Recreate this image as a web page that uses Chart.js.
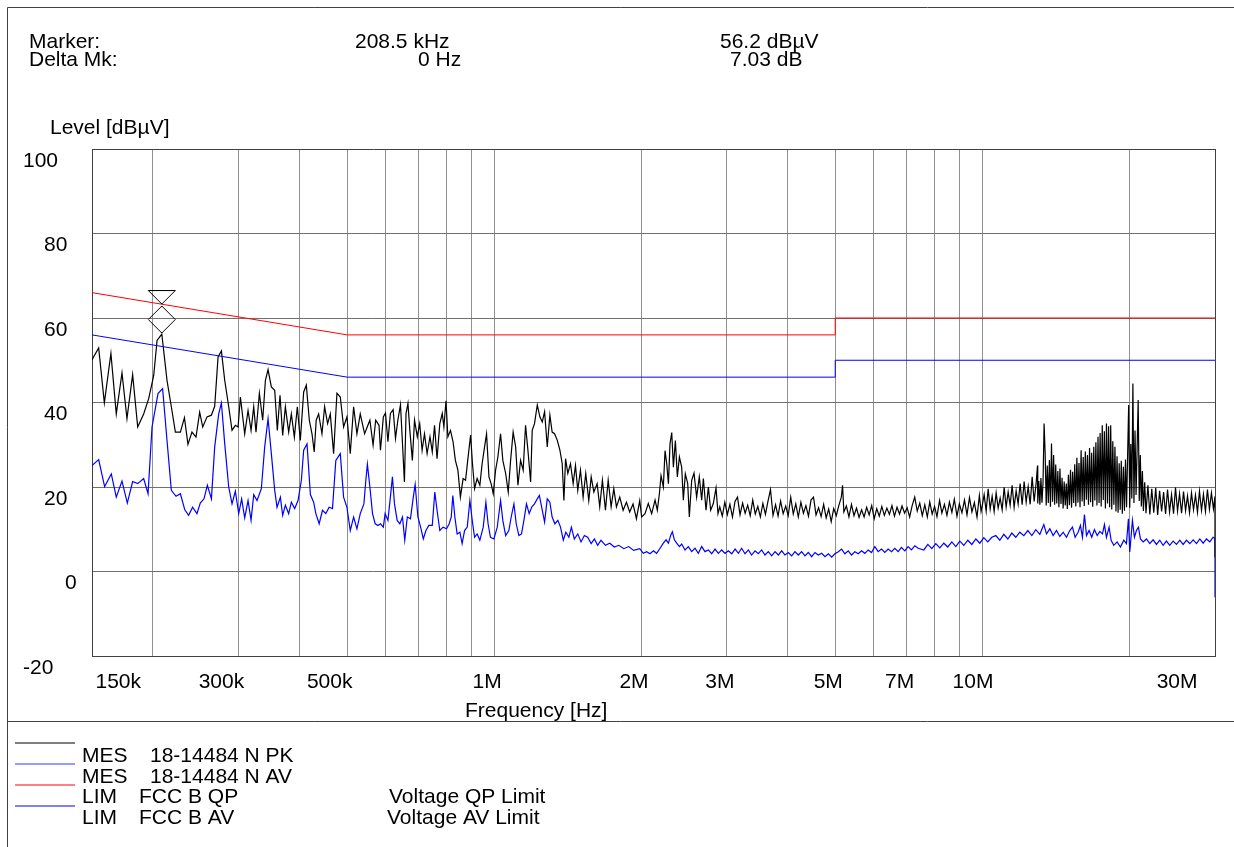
<!DOCTYPE html>
<html>
<head>
<meta charset="utf-8">
<script src="https://cdn.jsdelivr.net/npm/chart.js@4.4.1/dist/chart.umd.min.js"></script>
<style>
  html, body { margin: 0; padding: 0; background: #fff; }
  #wrap { width: 1234px; height: 847px; position: relative; }
</style>
</head>
<body>
<div id="wrap"><canvas id="emi"></canvas></div>
<script>
// frequencies in kHz, levels in dBuV
var gridFreqs = [150, 200, 300, 400, 500, 600, 700, 800, 900, 1000,
  2000, 3000, 4000, 5000, 6000, 7000, 8000, 9000, 10000, 20000, 30000];
var labelFreqs = [150, 300, 500, 1000, 2000, 3000, 5000, 7000, 10000, 30000];
var labelTexts = ["150k", "300k", "500k", "1M", "2M", "3M", "5M", "7M", "10M", "30M"];

var qpLimitFreq = [150, 500, 5000, 5000, 30000];
var qpLimitLevel = [66, 56, 56, 60, 60];
var avLimitFreq = [150, 500, 5000, 5000, 30000];
var avLimitLevel = [56, 46, 46, 50, 50];

var markerFreq = 208.5;
var markerLevel = 56.2;

// MES 18-14484 N PK  [kHz, dBuV]
var pkPoints = [
  [150, 50.1], [154.8, 52.9], [159, 39.9], [164, 51.6], [168.2, 37.3], [172.8, 47], [176.9, 36.2],
  [181.7, 46.6], [186.1, 34.2], [191.4, 37.3], [196, 40.9], [200.7, 46.4], [203.9, 54.7],
  [208.5, 56.2], [213.7, 45.2], [218.1, 39], [222.3, 33], [227.6, 33], [232, 36.4], [235.9, 30.1],
  [240.4, 33], [245, 31.8], [249.3, 37.7], [252.9, 34.2], [258.1, 36.6], [263.5, 37], [267.6, 39.1],
  [271.9, 50.8], [276.2, 52.2], [280.6, 45.2], [285.9, 39], [290.4, 33.4], [295, 34.6], [298.8, 34.2],
  [302.1, 41.3], [308.3, 32.6], [313.2, 38.1], [317.7, 33.4], [321.7, 39], [325.2, 33], [330.4, 42.2],
  [335.6, 35.8], [339.9, 45.2], [344.2, 47.8], [349.6, 43.7], [355.2, 42.9], [359.6, 33.4],
  [364.2, 41.7], [368.8, 32.2], [373.5, 39], [379.4, 33], [384.2, 37.3], [389.7, 31.8], [395.2, 39],
  [400.8, 31], [407.2, 42.5], [412.3, 44.1], [418.2, 35.8], [423.5, 32.6], [428, 28.3], [432, 35.8],
  [437, 37.3], [443.9, 32.6], [449.5, 39], [455.9, 35], [461.7, 37.3], [469, 27.9], [476.4, 42.2],
  [484, 41.3], [491.6, 34.2], [499.4, 36.6], [507.3, 27.9], [515.4, 39], [523.5, 32.6], [531.8, 37.3],
  [542.8, 32.6], [556.5, 35.8], [565, 29.9], [572, 35.8], [581, 34.6], [585, 28.7], [593, 36.6],
  [599, 37.5], [606, 30.7], [613, 37.4], [621, 38.3], [628, 31.5], [635, 35.8], [643, 39.5],
  [648, 31.9], [655, 21.2], [660, 37.4], [666, 39.8], [672, 33.4], [680, 26.3], [687, 35.8],
  [696, 31.9], [704, 35], [712, 28.7], [720, 32.6], [729, 27.9], [739, 31.9], [747, 28.3],
  [755, 34.6], [764, 26.7], [774, 35], [783, 37.4], [789, 34.2], [797, 40.4], [804, 31.9],
  [814, 33.4], [824, 30.7], [833, 26.3], [843, 24], [853, 17.6], [864, 22], [874, 21.6],
  [883, 26.3], [895, 32.3], [903, 25.5], [912, 19.6], [923, 22], [935, 20.4], [945, 25.5],
  [956, 29.5], [965, 32.6], [976, 22.4], [986, 20.8], [996, 18.4], [1007, 24], [1018, 27.1],
  [1031, 32.6], [1042, 26.3], [1056, 23.2], [1069, 18.8], [1081, 26.3], [1094, 33], [1107, 29.5],
  [1119, 20.4], [1133, 26.3], [1147, 24], [1160, 34.6], [1173, 28.7], [1188, 21.2], [1197, 33.4],
  [1210, 35], [1226, 39.4], [1241, 36.6], [1255, 35.4], [1269, 37.8], [1285, 29.5], [1301, 37],
  [1315, 33], [1330, 32.6], [1347, 31.1], [1364, 28.7], [1379, 25.5], [1390, 16.8], [1401, 26.7],
  [1416, 23.2], [1434, 25.5], [1452, 20.8], [1468, 25.1], [1484, 19.2], [1503, 24], [1522, 17.6],
  [1541, 23.2], [1563, 16.8], [1581, 22.4], [1601, 18.8], [1626, 20.8], [1646, 15.3], [1667, 21.6],
  [1691, 14.5], [1713, 21.6], [1737, 15.3], [1759, 19.6], [1781, 15.3], [1809, 17.6], [1838, 14.5],
  [1867, 16.4], [1896, 14.1], [1926, 16], [1957, 12.5], [1988, 16.8],
  [2006, 12.9], [2038, 13.7], [2070, 16.1], [2103, 13.7], [2137, 16.9], [2160, 14.5], [2181, 18.4],
  [2198, 22.7], [2222, 20], [2240, 28.6], [2258, 25.5], [2276, 20.8], [2293, 30.2], [2312, 32.9],
  [2330, 24.7], [2352, 31], [2374, 22.4], [2397, 27.1], [2423, 24.7], [2442, 16.9], [2465, 23.1],
  [2493, 20.8], [2512, 12.9], [2540, 21.6], [2568, 23.3], [2600, 17.6], [2633, 22.4], [2663, 16.9],
  [2684, 22], [2718, 14.5], [2748, 20], [2778, 14.5], [2813, 16.1], [2849, 19.8], [2876, 13.7],
  [2900, 15.3], [2935, 13.1], [2970, 16.4], [3006, 13.5], [3042, 15.9], [3079, 12.9], [3116, 16.6],
  [3153, 17.6], [3191, 13.4], [3230, 16.2], [3269, 13.8], [3308, 15.7], [3348, 13.2], [3388, 16.9],
  [3429, 13.6], [3470, 15.4], [3512, 12.9], [3554, 16.1], [3597, 13.5], [3640, 16.6], [3684, 19.4],
  [3728, 13.3], [3773, 15.8], [3818, 13.1], [3864, 16.7], [3911, 13.7], [3958, 15.5], [4005, 13.2],
  [4053, 17.6], [4102, 13.6], [4151, 16], [4201, 12.9], [4252, 16.4], [4303, 13.8], [4354, 15.6],
  [4407, 13.1], [4460, 16.9], [4513, 17.6], [4567, 13.4], [4622, 15.1], [4678, 13], [4734, 15.9],
  [4791, 12.7], [4848, 14.8], [4906, 11.8], [4965, 14.9], [5025, 13.2], [5085, 15.6], [5146, 17.6],
  [5176, 20.4], [5208, 14.1], [5270, 15.5], [5334, 12.9], [5398, 15.9], [5463, 13.2], [5528, 15],
  [5595, 12.8], [5662, 14.6], [5730, 12.9], [5799, 15.2], [5868, 13.4], [5939, 15.6], [6010, 12.5],
  [6082, 14.9], [6155, 13.1], [6229, 15.4], [6304, 13.3], [6380, 15], [6456, 13.5], [6534, 15.6],
  [6612, 13.1], [6692, 15.2], [6772, 13.6], [6853, 15.5], [6936, 13.8], [7019, 15.1], [7103, 12.9],
  [7188, 15.6], [7275, 17.6], [7362, 14.3],
  [7450, 16.2], [7540, 13.2], [7630, 15.8], [7720, 12.9], [7810, 16.5], [7900, 13.6], [7990, 15.4],
  [8080, 13], [8180, 16.8], [8270, 13.8], [8370, 15.9], [8470, 13.3], [8570, 16.4], [8670, 14],
  [8770, 17.1], [8880, 13.1], [8980, 16], [9090, 13.9], [9200, 16.9], [9310, 13.4], [9420, 17.5],
  [9530, 14.1], [9640, 16.3], [9760, 12.9], [9870, 18], [9950, 14.2],
  [10000, 15.5], [10095, 18.2], [10191, 14.3], [10288, 19.6], [10386, 14.8], [10483, 17.8],
  [10583, 14.2], [10683, 18.6], [10784, 15], [10887, 17.4], [10990, 14.6], [11094, 19.9],
  [11199, 15.3], [11305, 18.8], [11412, 15.7], [11520, 20.4], [11629, 15.2], [11740, 19.1],
  [11851, 16], [11964, 20.8], [12078, 15.8], [12192, 21.3], [12308, 16.4], [12425, 20.1],
  [12543, 15.9], [12661, 22.4], [12781, 16.6], [12903, 21], [12984, 25.1],
  [13000, 16.1], [13065, 21.4], [13130, 15.8], [13196, 22.1], [13262, 16.3], [13328, 21.2],
  [13395, 35], [13462, 28], [13529, 15.6], [13597, 25.1], [13665, 16.2], [13733, 26.4],
  [13802, 15.3], [13871, 30.3], [13940, 16.5], [14010, 27.6], [14080, 15.8], [14150, 25.3],
  [14221, 16.1], [14292, 23.8], [14363, 15.2], [14435, 24.4], [14507, 16], [14580, 22.2],
  [14653, 14.9], [14726, 21.3], [14800, 15.6], [14874, 20.8], [14948, 14.8], [15023, 22.9],
  [15098, 15.7], [15174, 24.1], [15249, 15.1], [15326, 23.6], [15402, 16.2], [15479, 25.4],
  [15557, 15.4], [15635, 26.9], [15713, 16.3], [15791, 25.7], [15870, 15.2], [15950, 28.7],
  [16029, 16.6], [16110, 27.1], [16190, 15.5], [16271, 28.4], [16352, 17], [16434, 27.6],
  [16516, 15.8], [16599, 29.2], [16682, 16.4], [16765, 28.1], [16849, 15.3], [16933, 29.5],
  [17018, 16.8], [17103, 30.6], [17189, 15.6], [17275, 31.9], [17361, 16.2], [17448, 32.8],
  [17535, 15.4], [17623, 34.6], [17711, 16.9], [17799, 33.2], [17888, 14.9], [17978, 35],
  [18068, 16.1], [18158, 34.4], [18249, 15.2], [18340, 34.6], [18432, 14.7], [18524, 30.8],
  [18617, 15.8], [18710, 29.5], [18803, 14.2], [18897, 27.3], [18992, 13.9], [19087, 25.6],
  [19182, 14.6], [19278, 26.2], [19374, 13.7], [19471, 24.8], [19569, 14.4], [19666, 26.5],
  [19765, 15.2], [19864, 27.4], [19963, 39.4], [20063, 15.1], [20163, 30.2], [20264, 17.3],
  [20365, 44.5], [20467, 16.2], [20569, 33.4], [20672, 18.1], [20775, 29], [20879, 40.6],
  [20984, 16.7], [21089, 27.6], [21194, 15.4], [21300, 23.8], [21400, 14.3], [21530, 21.1],
  [21660, 13.8], [21860, 20.4],
  [22060, 13.5], [22260, 19.6], [22470, 13.9], [22680, 19.8], [22890, 13.4], [23100, 19.1],
  [23320, 14.2], [23540, 18.8], [23760, 13.6], [23980, 19.4], [24210, 14.1], [24440, 18.2],
  [24670, 13.7], [24900, 19.9], [25140, 14.3], [25380, 18.4], [25620, 13.8], [25860, 18.9],
  [26110, 14.4], [26350, 17.9], [26600, 13.9], [26850, 18.6], [27110, 14.6], [27360, 18.1],
  [27620, 14], [27880, 19], [28150, 14.5], [28410, 18.3], [28680, 14.2], [28950, 19.4],
  [29220, 14.7], [29500, 18.6], [29780, 14.8], [30000, 17.8], [30000, 3.4]
];

// MES 18-14484 N AV  [kHz, dBuV]
var avPoints = [
  [150, 25.1], [154.8, 26.5], [159.2, 20.1], [164.3, 23.1], [168.2, 17.6], [172.8, 21.4],
  [177.2, 16.2], [181.7, 21.3], [186.1, 20.8], [191.4, 22], [195.4, 18.4], [199.1, 34.2],
  [204.8, 42.1], [209.3, 43.3], [213.7, 31], [218.1, 19.2], [223, 17.8], [227.6, 18.4],
  [232.4, 14.6], [236.6, 13.3], [241.1, 15.2], [246.1, 13.7], [250, 16.2], [254.4, 17.2],
  [258.5, 20.4], [263.5, 17.2], [267.6, 29.5], [272.7, 37.3], [276.2, 39.9], [280.6, 30.2],
  [285.9, 20], [290.4, 16], [295, 19], [299.7, 13.7], [303.9, 17.2], [308.3, 12.7], [313.2, 16.8],
  [317.7, 12.1], [321.7, 18.2], [326.8, 16.8], [333.5, 19.6], [338.8, 29.5], [344.2, 36.2],
  [349.6, 27.9], [355.2, 19.2], [359.1, 15.2], [364.8, 17.6], [368.8, 13.3], [373.5, 15.7],
  [379.4, 13.7], [384.2, 16.4], [390.3, 14.9], [396.5, 16.8], [402.8, 21.6], [407.2, 28.7],
  [413.7, 30.2], [420.3, 18.2], [426.8, 16.4], [431.3, 13.7], [438.1, 11.3], [445, 14.5],
  [452.1, 13.7], [459.2, 15.2], [466.5, 14.9], [473.9, 26.3], [484, 27.9], [491.6, 17.6],
  [499.4, 15.2], [507.3, 9.7], [515.4, 12.9], [523.5, 10.1], [531.8, 13.7],
  [541, 16], [546, 21.6], [550, 25.4], [556.5, 20], [563.5, 13.7], [570.6, 11.3], [577.9, 10.9],
  [585, 11.3], [593, 10.5], [598, 13.7], [606, 12.1], [613, 17.6], [619, 22.4], [625, 16],
  [633, 12.1], [641, 11.3], [649, 12.9], [656, 7.4], [664, 12.9], [674, 12.5], [683, 17.6],
  [689, 20.6], [698, 12.9], [707, 10.5], [716, 7.7], [725, 9.7], [735, 10.9], [747, 10.9],
  [756, 18.8], [764, 14.5], [774, 9.7], [786, 10.5], [799, 10.1], [809, 11.3], [817, 12.9],
  [823, 18], [831, 12.9], [840, 8.9], [851, 9.3], [860, 6.6], [870, 9.7], [881, 10.5], [892, 16.8],
  [902, 12.1], [912, 8.1], [923, 8.9], [935, 7.4], [950, 10.5], [962, 16.4], [972, 11.3],
  [983, 8.1], [999, 7.7], [1015, 10.5], [1031, 16.8], [1042, 12.1], [1056, 8.5], [1072, 9.7],
  [1084, 12.9], [1098, 16], [1110, 11.3], [1124, 8.5], [1138, 8.9], [1151, 12.1], [1165, 16],
  [1180, 13.7], [1195, 15.3], [1210, 16], [1226, 17.2], [1238, 18], [1255, 14.5], [1269, 11.7],
  [1285, 17.2], [1301, 16.4], [1315, 12.9], [1332, 11.3], [1351, 12.1], [1368, 10.5], [1386, 7.4],
  [1403, 9.3], [1423, 8.1], [1440, 10.5], [1460, 7.7], [1484, 8.9], [1507, 7], [1531, 8.5],
  [1555, 8.1], [1581, 6.6], [1605, 7.7], [1630, 6.2], [1656, 7.4], [1691, 6.2], [1726, 6.7],
  [1763, 5.8], [1801, 6.2], [1844, 5.4], [1887, 5.9], [1932, 5], [1988, 5.4],
  [2022, 4.3], [2054, 4.7], [2087, 4.2], [2120, 4.9], [2153, 4.3], [2188, 5.5], [2222, 6.7],
  [2251, 7.5], [2276, 6.7], [2301, 8.6], [2319, 9.4], [2341, 7.5], [2367, 6.7], [2397, 5.9],
  [2423, 6.5], [2461, 5.1], [2500, 5.9], [2540, 4.7], [2580, 5.5], [2621, 4.3], [2663, 5.9],
  [2705, 4.7], [2748, 5.1], [2791, 4.2], [2836, 5.3], [2881, 4.3], [2926, 5.1], [2973, 4.3],
  [3020, 4.9], [3068, 4.2], [3117, 5.3], [3167, 4.3], [3215, 5.5], [3267, 4.2], [3319, 5.1],
  [3370, 3.9], [3425, 4.9], [3478, 4.2], [3533, 5.1], [3590, 3.9], [3646, 4.7], [3705, 3.7],
  [3764, 4.7], [3823, 3.9], [3884, 4.9], [3945, 3.9], [4008, 4.5], [4071, 3.7], [4135, 4.7],
  [4201, 3.9], [4267, 4.7], [4335, 3.7], [4403, 4.5], [4473, 3.5], [4544, 4.5], [4616, 3.9],
  [4690, 4.3], [4764, 3.5], [4841, 4.2], [4917, 3.4], [4993, 4.2], [5075, 4.7], [5152, 5.3],
  [5234, 4.2], [5316, 4.9], [5400, 3.9], [5486, 4.7], [5573, 4.2], [5661, 4.9], [5750, 4.3],
  [5841, 5.1], [5934, 4.5], [6028, 5.9], [6123, 4.7], [6220, 5.3], [6318, 4.5], [6418, 5.3],
  [6520, 4.7], [6623, 5.5], [6728, 4.7], [6834, 5.7], [6942, 4.9], [7052, 5.9], [7164, 5.1],
  [7277, 6.1], [7392, 5.5],
  [7594, 5.1], [7739, 6.4], [7886, 5.4], [8036, 6.6], [8190, 5.6], [8345, 6.7], [8504, 5.8],
  [8667, 7], [8831, 5.9], [9000, 7.2], [9171, 6.2], [9346, 7.4], [9524, 6.4], [9706, 7.7],
  [9891, 6.7], [10079, 8], [10271, 7], [10467, 8.1], [10666, 8.5], [10869, 7.4], [11076, 8.8],
  [11288, 7.7], [11503, 9.1], [11722, 8.1], [11945, 9.3], [12173, 8.5], [12406, 9.7],
  [12642, 8.5], [12882, 9.9], [13128, 8.8], [13378, 11.1], [13548, 8.9], [13764, 10.1],
  [13979, 8.5], [14200, 9.7], [14427, 8.3], [14655, 9.3], [14887, 8.1], [15121, 9.7],
  [15313, 10.5], [15506, 8.1], [15726, 9.3], [15901, 10.9], [16051, 8.1], [16204, 13.5],
  [16361, 8.5], [16564, 9.7], [16773, 8.1], [16985, 9.9], [17209, 8.5], [17419, 9.5],
  [17640, 8.9], [17807, 11.1], [17976, 8.1], [18203, 10.5], [18376, 7.4], [18609, 6.2],
  [18903, 7], [19203, 5.8], [19510, 7.4], [19753, 6.6], [19940, 12.5], [20067, 4.6],
  [20321, 12.1], [20513, 8.1], [20708, 9.7], [20904, 10.5], [21102, 7.7], [21378, 7],
  [21708, 7.7], [22052, 6.6], [22402, 7.5], [22763, 6.4], [23118, 7.4], [23484, 6.2],
  [23856, 7.2], [24234, 6.2], [24618, 7.2], [25016, 6.4], [25412, 7.4], [25815, 6.4],
  [26224, 7.4], [26641, 6.6], [27063, 7.5], [27492, 6.6], [27928, 7.7], [28370, 6.7],
  [28820, 7.7], [29277, 7], [29733, 8.1], [30000, 7.8], [30000, -6.1]
];

var FONT = '21px "Liberation Sans", Arial, Helvetica, sans-serif';
var EM = "\u2003";

function toXY(points) {
  return points.map(function (p) { return { x: p[0], y: p[1] }; });
}
function zipXY(xs, ys) {
  return xs.map(function (x, i) { return { x: x, y: ys[i] }; });
}

// diamond + inverted triangle marker, drawn above the marker point
var markerImg = document.createElement("canvas");
markerImg.width = 30;
markerImg.height = 88;
(function () {
  var c = markerImg.getContext("2d");
  c.strokeStyle = "#000";
  c.lineWidth = 1;
  c.beginPath();
  c.moveTo(1.5, 0.5); c.lineTo(28.5, 0.5); c.lineTo(15, 14); c.closePath();
  c.stroke();
  c.beginPath();
  c.moveTo(15, 16); c.lineTo(28.5, 29.5); c.lineTo(15, 43); c.lineTo(1.5, 29.5); c.closePath();
  c.stroke();
})();

var pageText = {
  id: "pageText",
  afterDraw: function (chart) {
    var ctx = chart.ctx;
    ctx.save();
    // frame
    ctx.strokeStyle = "#404040";
    ctx.lineWidth = 1;
    ctx.beginPath();
    ctx.moveTo(7.5, 847); ctx.lineTo(7.5, 7.5); ctx.lineTo(1234, 7.5);
    ctx.moveTo(7.5, 721.5); ctx.lineTo(1234, 721.5);
    ctx.stroke();

    ctx.fillStyle = "#000";
    ctx.font = FONT;
    ctx.textAlign = "left";
    ctx.textBaseline = "alphabetic";
    ctx.fillText("Marker:", 29, 47.5);
    ctx.fillText("Delta Mk:", 29, 65.5);
    ctx.fillText("208.5 kHz", 355, 48);
    ctx.fillText("0 Hz", 418, 66);
    ctx.fillText("56.2 dBµV", 720, 48);
    ctx.fillText("7.03 dB", 730, 66);
    ctx.fillText("Level [dBµV]", 50, 133.5);
    ctx.fillText("Frequency [Hz]", 465, 716.5);

    // legend
    var rows = [
      { color: "#000000", lineY: 743, a: "MES", b: "18-14484 N PK", bx: 150, c: "" },
      { color: "#2a3cff", lineY: 764, a: "MES", b: "18-14484 N AV", bx: 150, c: "" },
      { color: "#ff0000", lineY: 785, a: "LIM", b: "FCC B QP", bx: 139, c: "Voltage QP Limit", cx: 389 },
      { color: "#0000ff", lineY: 806, a: "LIM", b: "FCC B AV", bx: 139, c: "Voltage AV Limit", cx: 387 }
    ];
    var base = [762, 782.5, 803, 823.5];
    rows.forEach(function (r, i) {
      ctx.strokeStyle = r.color;
      ctx.lineWidth = 1;
      ctx.beginPath();
      ctx.moveTo(15, r.lineY); ctx.lineTo(75, r.lineY);
      ctx.stroke();
      ctx.fillText(r.a, 82, base[i]);
      ctx.fillText(r.b, r.bx, base[i]);
      if (r.c) ctx.fillText(r.c, r.cx, base[i]);
    });
    ctx.restore();
  }
};

var edgeX = [gridFreqs[0], gridFreqs[gridFreqs.length - 1]];

new Chart("emi", {
  type: "scatter",
  data: {
    datasets: [
      {
        label: "MES 18-14484 N PK",
        data: toXY(pkPoints),
        showLine: true,
        borderColor: "#000000",
        borderWidth: 1.2,
        pointRadius: 0,
        order: 3
      },
      {
        label: "MES 18-14484 N AV",
        data: toXY(avPoints),
        showLine: true,
        borderColor: "#0000ff",
        borderWidth: 1.2,
        pointRadius: 0,
        order: 4
      },
      {
        label: "LIM FCC B QP",
        data: zipXY(qpLimitFreq, qpLimitLevel),
        showLine: true,
        borderColor: "#ff0000",
        borderWidth: 1,
        pointRadius: 0,
        order: 2
      },
      {
        label: "LIM FCC B AV",
        data: zipXY(avLimitFreq, avLimitLevel),
        showLine: true,
        borderColor: "#0000ff",
        borderWidth: 1,
        pointRadius: 0,
        order: 2
      },
      {
        label: "Marker",
        data: [{ x: markerFreq, y: markerLevel }],
        showLine: false,
        pointStyle: markerImg,
        pointRadius: 10,
        order: 1
      }
    ]
  },
  options: {
    responsive: true,
    maintainAspectRatio: false,
    animation: false,
    events: [],
    layout: { padding: { left: 23, top: 149, right: 19, bottom: 0 } },
    plugins: {
      legend: { display: false },
      tooltip: { enabled: false },
      title: { display: false }
    },
    scales: {
      x: {
        type: "logarithmic",
        min: 150,
        max: 30000,
        afterBuildTicks: function (scale) {
          scale.ticks = gridFreqs.map(function (v) { return { value: v }; });
        },
        afterFit: function (scale) { scale.height = 191; },
        grid: {
          drawTicks: false,
          color: function (c) {
            return c.tick && edgeX.indexOf(c.tick.value) >= 0 ? "#404040" : "#909090";
          },
          lineWidth: 1
        },
        border: { display: true, color: "#404040", width: 1 },
        ticks: {
          autoSkip: false,
          maxRotation: 0,
          align: "inner",
          labelOffset: -7,
          padding: 14,
          color: "#000",
          font: { family: '"Liberation Sans", Arial, sans-serif', size: 21 },
          callback: function (value, index, ticks) {
            var i = labelFreqs.indexOf(value);
            if (i < 0) return "";
            var t = labelTexts[i];
            if (i === 0) return "\u2002" + t;
            if (i === labelFreqs.length - 1) return t + "\u2002";
            if (t.charAt(t.length - 1) === "k") return t + EM;
            if (t.length === 3) return t + "\u2009";
            return t;
          }
        }
      },
      y: {
        type: "linear",
        min: -20,
        max: 100,
        afterFit: function (scale) { scale.width = 69; },
        grid: {
          drawTicks: false,
          color: function (c) {
            return c.tick && (c.tick.value === -20 || c.tick.value === 100) ? "#404040" : "#707070";
          },
          lineWidth: 1
        },
        border: { display: true, color: "#404040", width: 1 },
        ticks: {
          stepSize: 20,
          crossAlign: "far",
          labelOffset: 12,
          padding: 0,
          color: "#000",
          font: { family: '"Liberation Sans", Arial, sans-serif', size: 21 },
          callback: function (value) {
            var s = String(value);
            var pad = "";
            for (var k = s.length; k < 3; k++) pad += EM;
            return pad + s;
          }
        }
      }
    }
  },
  plugins: [pageText]
});
</script>
</body>
</html>
